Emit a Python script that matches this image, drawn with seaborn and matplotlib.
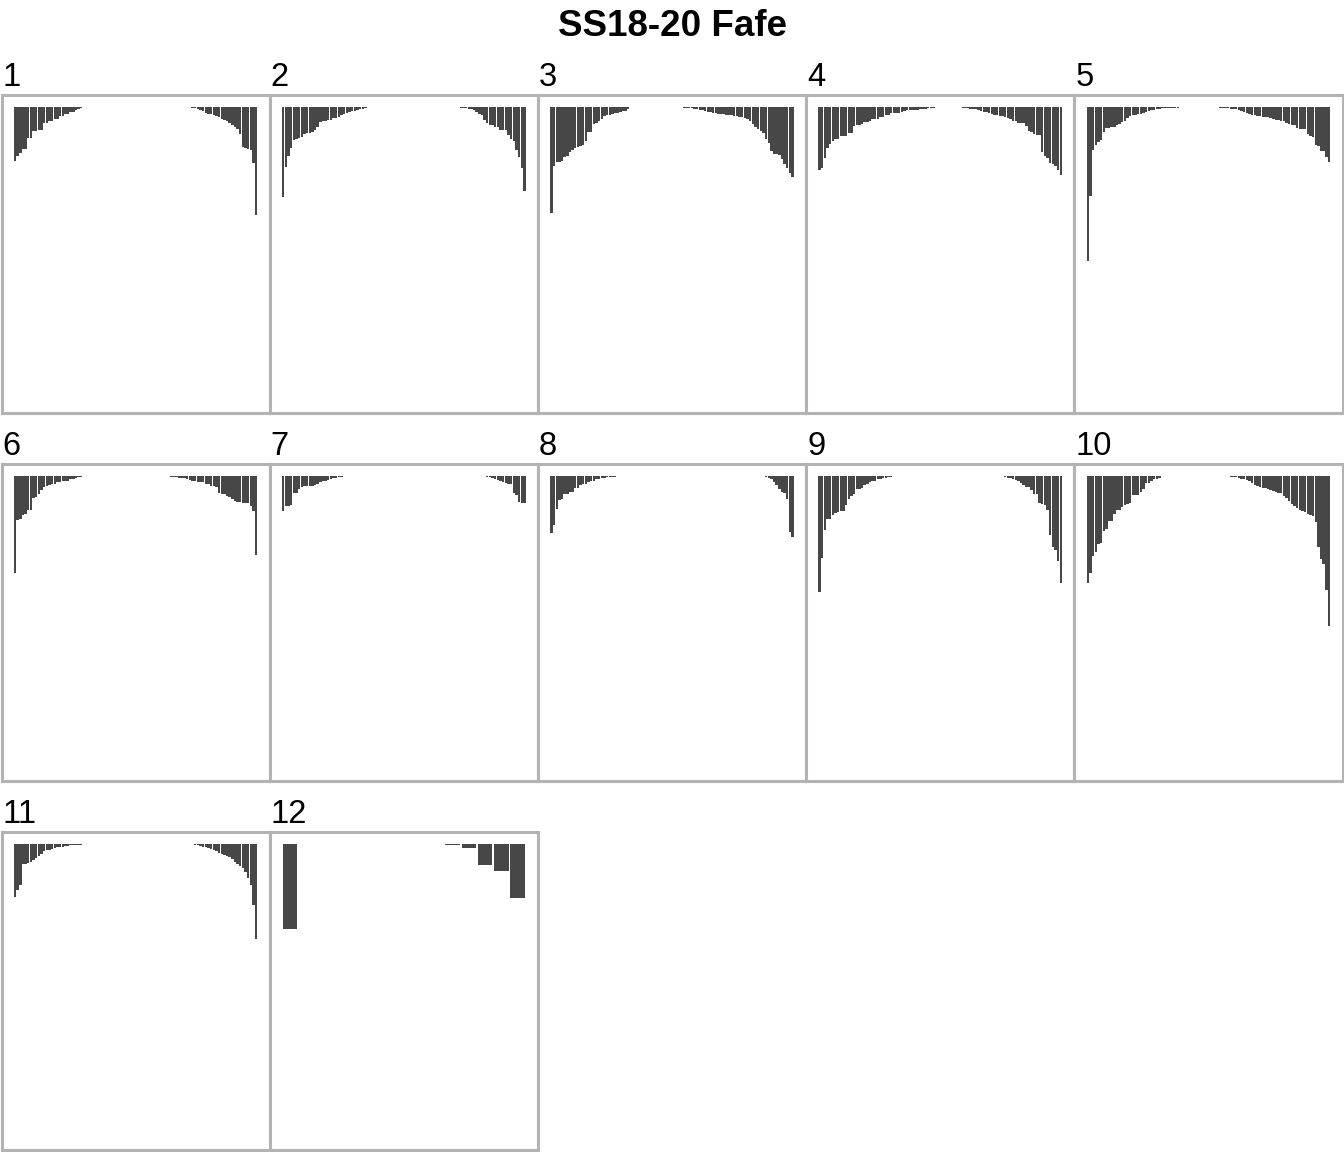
import matplotlib
matplotlib.use('Agg')
import pandas as pd
import matplotlib.pyplot as plt
import seaborn as sns

# depth of each bar (hanging from the top)
# left = bars from the left edge inwards, right = bars ending at the right edge
left_1 = [54, 49, 46, 42, 42, 31, 31, 24, 24, 23, 23, 16, 16, 14, 14, 12, 12, 9, 9, 7, 7, 5, 5, 3, 2, 1]
right_1 = [0.5, 1, 2, 3, 4, 6, 7, 7, 8, 9, 10, 12, 13, 14, 16, 18, 20, 22, 27, 40, 41, 42, 43, 56, 108]

left_2 = [90, 60, 49, 41, 33, 32, 31, 30, 27, 26, 26, 25, 23, 20, 15, 14, 14, 13, 13, 11,
          11, 10, 8, 7, 6, 5, 4, 4, 3, 2, 1.5, 0.5, 0.3, 0.3]
right_2 = [0.5, 0.7, 1, 1.7, 1.7, 3, 5, 7, 8, 13, 16, 18, 18, 20, 20, 23, 23, 23, 28, 32,
           34, 43, 50, 61, 84]

left_3 = [106, 59, 55, 55, 54, 50, 49, 45, 43, 41, 40, 39, 38, 34, 25, 25, 17, 16, 14, 12,
          9, 8, 8, 7, 6, 6, 5, 4, 4, 2]
right_3 = [1, 1, 1.3, 1.3, 2, 2.3, 3, 3.3, 4, 4.7, 5, 5.7, 6, 6.7, 7, 7, 7.7, 7.7, 8, 9,
           9, 10, 10, 10.7, 12, 14, 16.7, 19.7, 22, 24, 26, 32, 36, 44, 47, 47, 48, 52, 57, 61,
           66, 70]

left_4 = [63, 61, 51, 41, 37, 34, 32, 32, 29, 29, 29, 26, 26, 19, 18, 18, 17, 15, 15, 14,
          12, 12, 12, 10, 10, 8, 8, 6, 6, 6, 6, 5, 4, 3, 3, 3, 3, 3, 2, 2,
          2, 1, 1, 1]
right_4 = [0.7, 1, 1, 1.5, 2, 2, 3, 4, 5, 5, 6, 7, 8, 8, 9, 9, 10, 11, 12, 14,
           14, 16, 16, 16, 19, 24, 25, 27, 28, 28, 45, 49, 51, 56, 57, 59, 63, 68]

left_5 = [154, 89, 43, 38, 35, 33, 25, 21, 21, 20, 20, 18, 17, 15, 14, 11, 9, 8, 8, 7,
          7, 6, 5, 4, 3, 3, 2, 2, 1.3, 1.3, 1, 0.7, 0.7, 0.7, 0.7]
right_5 = [0.7, 0.7, 0.7, 0.7, 1.5, 2.3, 2.3, 3, 4, 5, 6, 7, 8, 8, 8.5, 9, 9.5, 10, 10, 11,
           12, 13, 13, 14, 14, 16, 17, 18, 18, 21, 22, 22, 22, 27, 29, 30, 38, 39, 44, 44,
           50, 55]

left_6 = [97, 44, 43, 39, 38, 34, 34, 22, 21, 18, 14, 11, 10, 9, 8, 8, 6, 6, 5, 5,
          5, 3, 3, 2, 1.3, 1.3, 0.7, 0.7, 0.5, 0.5, 0.5]
right_6 = [0.5, 0.7, 1, 1, 1.7, 2, 2.7, 2.7, 3.5, 4, 5, 5.3, 6, 6.7, 6.7, 8, 8.7, 10, 10, 11.7,
           17.7, 18.7, 18.7, 20, 21, 23, 25, 26, 26, 27, 27, 27, 30, 35, 79]

left_7 = [35, 30, 30, 29, 17, 17, 13, 11, 10, 10, 10, 10, 9, 8, 6, 5, 5, 4, 3, 2,
          2, 1.5, 1, 0.7, 0.7, 0.5, 0.3, 0.3]
right_7 = [0.3, 0.5, 0.5, 0.7, 1, 1.7, 2.5, 3.4, 4, 5, 6, 7.5, 8, 8, 17, 19, 26, 27.5, 27.5]

left_8 = [57, 49, 33, 24.5, 23, 18, 18, 16, 16, 12, 12, 9, 8, 8, 6, 5, 5, 3.5, 3, 2.5,
          2, 1.5, 1.2, 1, 0.8, 0.7, 0.5, 0.3]
right_8 = [0.3, 0.5, 0.7, 1, 2, 3, 6, 9, 13, 16, 17, 23, 56, 61]

left_9 = [116, 82, 54, 43, 43, 39, 37, 36, 35, 35, 29, 23, 20, 18, 13, 13, 12, 9, 8, 6,
          5, 5, 3, 3, 2, 2, 1.3, 0.8, 0.5, 0.3]
right_9 = [0.5, 0.7, 1, 2, 2.7, 3.5, 4, 5, 7, 9, 11, 11, 14, 18, 18, 27, 28, 29, 34, 59,
           71, 74, 85, 107]

left_10 = [107, 97, 80, 76, 68, 67, 55, 53, 45, 45, 38, 34, 34, 31, 29, 28, 27, 19, 19, 19,
           16, 13, 7, 7, 5, 3, 3, 2, 0.7, 0.5]
right_10 = [0.5, 0.7, 1, 1, 1.3, 2, 3, 3.7, 4.3, 5, 7.7, 9, 10, 11, 12, 12, 13, 14, 15, 16,
            17, 17, 20, 22, 25, 28, 30, 32, 34, 35, 36, 38, 39, 40, 46, 71, 83, 88, 114, 150]

left_11 = [52, 45, 41, 20, 20, 19, 18, 16, 14, 12, 10, 7, 6, 6, 5, 4, 3, 3, 2.5, 2,
           1.5, 1, 0.7, 0.7, 0.5, 0.3]
right_11 = [0.5, 1, 1.5, 2.3, 3, 3.7, 4.5, 5.3, 7, 8.5, 10, 11, 12, 13, 15, 18, 20, 22, 24, 28,
            34, 41, 60, 94]

# panel 12 only has 15 items
values_12 = [84, 0, 0, 0, 0, 0, 0, 0, 0, 0, 0.7, 4, 21, 27, 53]

n_items = 92
panels = [str(i) for i in range(1, 13)]
sides = {
    '1': (left_1, right_1), '2': (left_2, right_2), '3': (left_3, right_3),
    '4': (left_4, right_4), '5': (left_5, right_5), '6': (left_6, right_6),
    '7': (left_7, right_7), '8': (left_8, right_8), '9': (left_9, right_9),
    '10': (left_10, right_10), '11': (left_11, right_11),
}

rows = []
for p in panels:
    if p == '12':
        vals = values_12
    else:
        left, right = sides[p]
        vals = left + [0] * (n_items - len(left) - len(right)) + right
    for i, v in enumerate(vals):
        rows.append({'panel': p, 'item': i, 'n': len(vals), 'depth': v})
df = pd.DataFrame(rows)

sns.set_style('white')
plt.rcParams['font.family'] = ['Liberation Sans', 'DejaVu Sans']

bar_color = '#474747'
frame_color = '#B3B3B3'


def draw_bars(data, color=None, **kws):
    ax = plt.gca()
    step = 100 / data['n'].iloc[0]
    ax.bar((data['item'] + 0.5) * step, data['depth'], width=0.9 * step,
           color=bar_color, linewidth=0, align='center')


g = sns.FacetGrid(df, col='panel', col_wrap=5, col_order=panels,
                  height=3.17, aspect=268 / 317, sharex=True, sharey=True, despine=False)
g.map_dataframe(draw_bars)

fig = g.figure
fig.set_size_inches(13.44, 11.52)

for ax, name in zip(g.axes.flat, panels):
    ax.set_xlim(-5, 105)
    ax.set_ylim(305, -12)
    ax.set_xticks([])
    ax.set_yticks([])
    ax.set_xlabel('')
    ax.set_ylabel('')
    ax.set_title('')
    for s in ax.spines.values():
        s.set_color(frame_color)
        s.set_linewidth(2.2)
    ax.text(0.004, 1 + 9 / 317, name, transform=ax.transAxes, ha='left', va='baseline',
            fontsize=23.5, color='black')

fig.subplots_adjust(left=1.5 / 1344, right=1342.5 / 1344, top=1 - 95 / 1152,
                    bottom=1 - 1150 / 1152, wspace=0, hspace=51 / 317)
fig.text(0.5, 1 - 36 / 1152, 'SS18-20 Fafe', ha='center', va='baseline',
         fontsize=26.5, fontweight='bold', color='black')

fig.savefig('out.png', dpi=100)
